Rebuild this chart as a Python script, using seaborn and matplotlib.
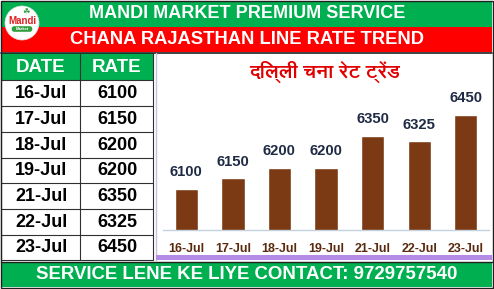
import matplotlib
matplotlib.use("Agg")
import matplotlib.pyplot as plt
from matplotlib import font_manager as fm
from matplotlib.ft2font import FT2Font
from matplotlib.patches import Rectangle, Circle, FancyBboxPatch
import seaborn as sns
import pandas as pd

# ---- data ----
dates = ["16-Jul", "17-Jul", "18-Jul", "19-Jul", "21-Jul", "22-Jul", "23-Jul"]
rates = [6100, 6150, 6200, 6200, 6350, 6325, 6450]
header_title = "MANDI MARKET PREMIUM SERVICE"
sub_title = "CHANA RAJASTHAN LINE RATE TREND"
chart_title = "दिल्ली चना रेट ट्रेंड"
footer_text = "SERVICE LENE KE LIYE CONTACT: 9729757540"
col_headers = ["DATE", "RATE"]

sns.set_theme(style="white")
plt.rcParams['font.family'] = ['Liberation Sans', 'DejaVu Sans']

# find a Devanagari-capable font if installed
deva_family = None
for f in fm.fontManager.ttflist:
    try:
        if 0x091A in FT2Font(f.fname).get_charmap():
            deva_family = f.name
            if f.weight in (600, 700, 800, "bold"):
                break
    except Exception:
        pass

W, H = 494, 289
GREEN = "#00B050"
RED = "#FF0000"
BROWN = "#7B3A14"

fig = plt.figure(figsize=(W / 100, H / 100), dpi=100)
bg = fig.add_axes([0, 0, 1, 1])
bg.set_xlim(0, W)
bg.set_ylim(H, 0)
bg.axis("off")

def rect(x0, y0, x1, y1, fc, ec="none", lw=0, z=1):
    bg.add_patch(Rectangle((x0, y0), x1 - x0, y1 - y0, facecolor=fc,
                           edgecolor=ec, linewidth=lw, zorder=z))

# bands
rect(0, 0, W, H, "white")
rect(1, 1, 492, 26.5, GREEN)
rect(1, 26.5, 492, 52, RED)
bg.plot([1, 492], [52.5, 52.5], color="#202020", lw=1.2, zorder=3)
rect(1, 262, 492, 287, GREEN)
bg.plot([1, 492], [261.5, 261.5], color="#202020", lw=1.0, zorder=3)
bg.add_patch(Rectangle((0.5, 0.5), 492, 287.5, fill=False, edgecolor="#202020", lw=1.0, zorder=5))

bg.text(247, 13.5, header_title, ha="center", va="center", color="white",
        fontsize=13, fontweight="bold", zorder=6)
bg.text(247, 39.5, sub_title, ha="center", va="center", color="white",
        fontsize=13.2, fontweight="bold", zorder=6)
bg.text(246.5, 274.5, footer_text, ha="center", va="center", color="white",
        fontsize=13.4, fontweight="bold", zorder=6)

# logo
bg.add_patch(Circle((22, 23), 17, facecolor="white", edgecolor="#dddddd", lw=0.5, zorder=6))
bg.text(22, 21, "Mandi", ha="center", va="center", color="#E02020",
        fontsize=7, fontweight="bold", zorder=7)
bg.add_patch(FancyBboxPatch((12, 26.5), 20, 5, boxstyle="round,pad=0.3,rounding_size=2.5",
                            facecolor="#2E9E3E", edgecolor="none", zorder=7))
bg.text(22, 29.2, "Market", ha="center", va="center", color="white",
        fontsize=3, fontweight="bold", zorder=8)
bg.text(26, 11, "\u2618", ha="center", va="center", color="#2E9E3E", fontsize=6,
        family=["DejaVu Sans"], zorder=7)

# table
row_edges = [53, 80, 106, 132, 157.5, 183, 209, 235, 260]
rect(1, 53, 153, 80, GREEN, z=2)
for y in row_edges[1:]:
    bg.plot([1, 153], [y, y], color="#303030", lw=0.8, zorder=3)
for x in [1, 80, 153]:
    bg.plot([x, x], [53, 260], color="#303030", lw=0.8, zorder=3)
bg.text(41, 67, col_headers[0], ha="center", va="center", color="white",
        fontsize=13.5, fontweight="bold", zorder=6)
bg.text(117, 67, col_headers[1], ha="center", va="center", color="white",
        fontsize=13.5, fontweight="bold", zorder=6)
for i, (d, r) in enumerate(zip(dates, rates)):
    yc = (row_edges[i + 1] + row_edges[i + 2]) / 2 + 0.5
    bg.text(41, yc, d, ha="center", va="center", color="black",
            fontsize=13, fontweight="bold", zorder=6)
    bg.text(117, yc, str(r), ha="center", va="center", color="black",
            fontsize=13, fontweight="bold", zorder=6)

# chart panel
bg.plot([155.5, 155.5], [53, 260], color="#C8C0E0", lw=1.0, zorder=3)
rect(155.5, 255, 492, 260, "#B48CE6", z=3)

tkw = dict(ha="center", va="center", color="#E00000", fontsize=14, fontweight="bold", zorder=6)
if deva_family:
    tkw["family"] = [deva_family, "DejaVu Sans"]
bg.text(325, 72, chart_title, **tkw)

# bar chart
ax = fig.add_axes([163 / W, 1 - 230 / H, 326 / W, 135 / H])
df = pd.DataFrame({"date": dates, "rate": rates})
sns.barplot(data=df, x="date", y="rate", color=BROWN, saturation=1, width=0.5, ax=ax)
ax.set_ylim(5905, 6544)
ax.set_xlim(-0.5, 6.5)
ax.patch.set_alpha(0)
for s in ["top", "right", "left"]:
    ax.spines[s].set_visible(False)
ax.spines["bottom"].set_color("#C5D3E0")
ax.spines["bottom"].set_linewidth(1.0)
ax.set_yticks([])
ax.set_xlabel("")
ax.set_ylabel("")
ax.tick_params(axis="x", length=0, pad=9, labelsize=9, labelcolor="#5B2A0E")
for lab in ax.get_xticklabels():
    lab.set_fontweight("bold")
ax.bar_label(ax.containers[0], labels=[str(r) for r in rates], padding=7,
             fontsize=10.7, fontweight="bold", color="#1F2A44")

fig.savefig("out.png", dpi=100)
